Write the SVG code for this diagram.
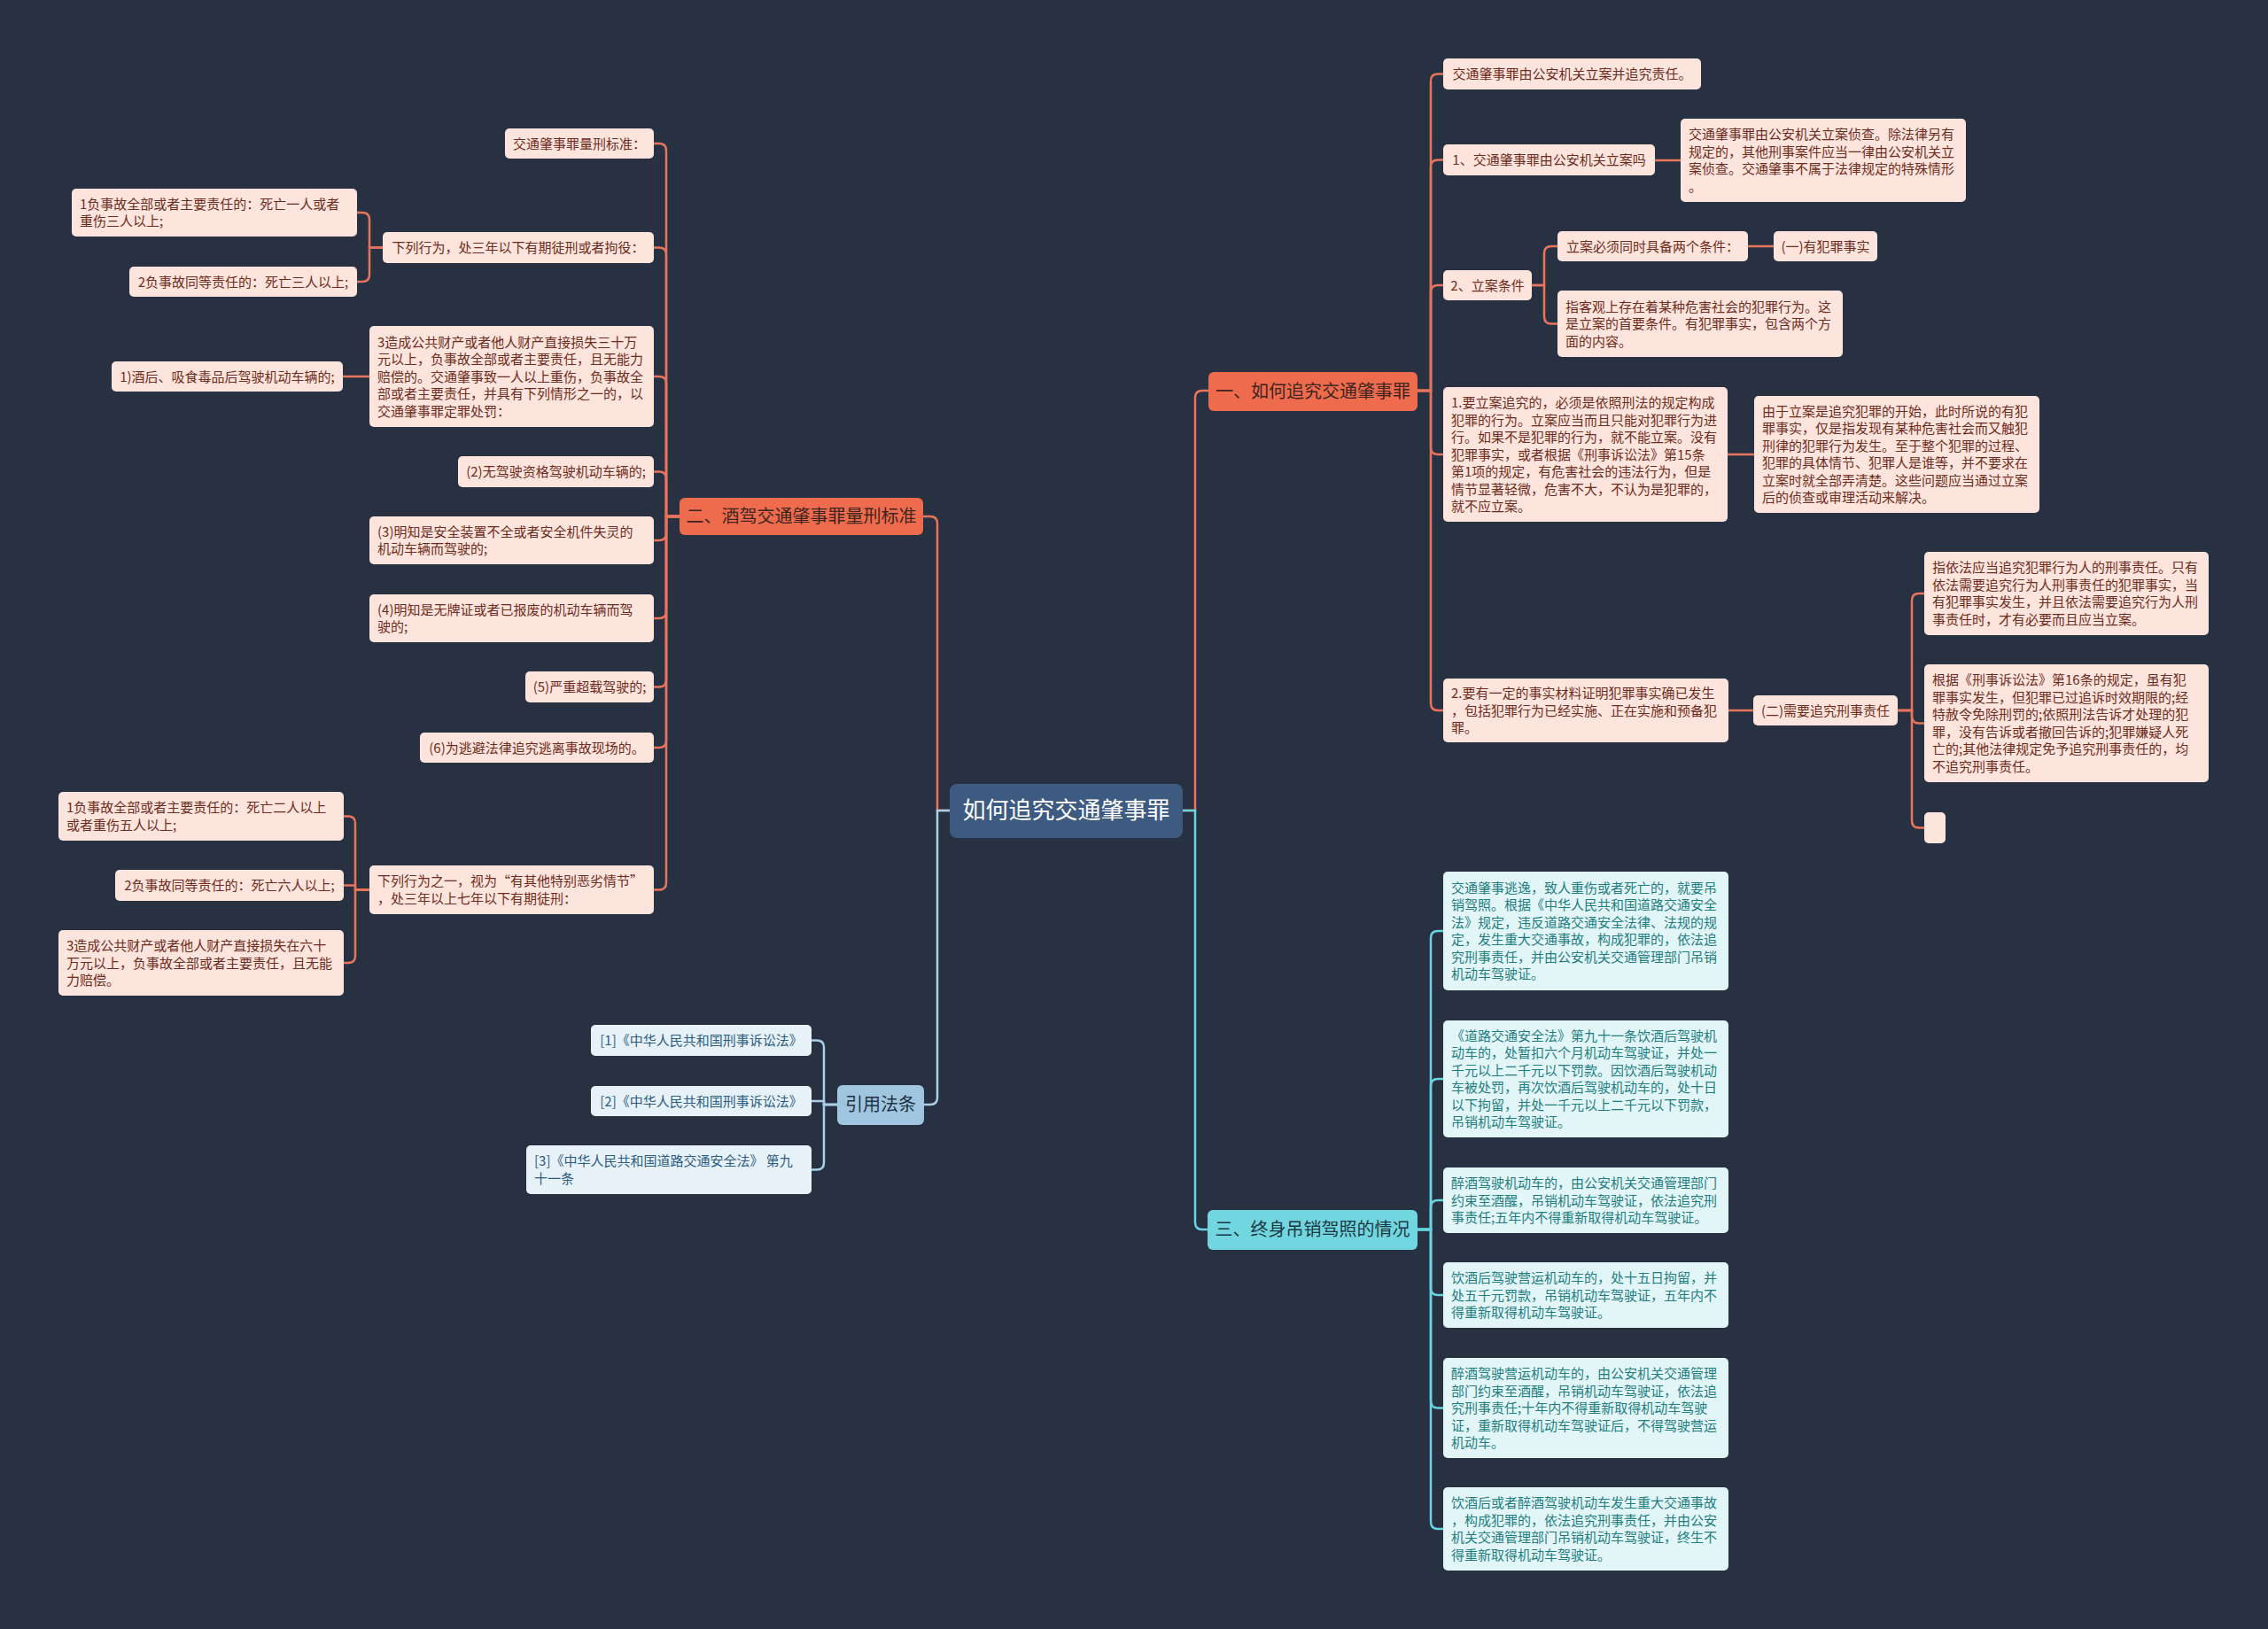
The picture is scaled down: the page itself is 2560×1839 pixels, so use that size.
<svg xmlns="http://www.w3.org/2000/svg" width="2560" height="1839" viewBox="0 0 2560 1839">
<style>
text{font-family:"Noto Sans CJK SC","Microsoft YaHei",sans-serif;font-size:15px}
.pk rect{fill:#fde4dc}
.pk text{fill:#6e2c20}
.cy rect{fill:#e2f6f8}
.cy text{fill:#1f7d80}
.bl rect{fill:#e7f1f8}
.bl text{fill:#2b5d82}
.m{text-anchor:middle}
.br text{font-size:20px;text-anchor:middle}
.co{fill:none;stroke:#e8755b;stroke-width:2.5}
.cc{fill:none;stroke:#67d4df;stroke-width:2.5}
.cb{fill:none;stroke:#a8cfe5;stroke-width:2.5}
</style>
<rect width="2560" height="1839" fill="#283142"/>
<g id="connectors">
<path class="co" d="M1335 915H1349V449Q1349 441 1357 441H1364" stroke-width="3"/>
<path class="cc" d="M1335 915H1349V1380Q1349 1388 1357 1388H1363" stroke-width="3"/>
<path class="co" d="M1072 915H1058V591Q1058 583 1050 583H1042" stroke-width="3"/>
<path class="cb" d="M1072 915H1058V1239Q1058 1247 1050 1247H1043" stroke-width="3"/>
<path class="co" d="M1600 441H1615V91.5Q1615 83.5 1623 83.5H1629"/>
<path class="co" d="M1600 441H1615V188.5Q1615 180.5 1623 180.5H1629"/>
<path class="co" d="M1600 441H1615V330Q1615 322 1623 322H1629"/>
<path class="co" d="M1600 441H1615V505Q1615 513 1623 513H1629"/>
<path class="co" d="M1600 441H1615V794Q1615 802 1623 802H1629"/>
<path class="co" d="M1868 181H1897"/>
<path class="co" d="M1729 322H1743V286Q1743 278 1751 278H1758"/>
<path class="co" d="M1729 322H1743V357.5Q1743 365.5 1751 365.5H1758"/>
<path class="co" d="M1973 278H2002"/>
<path class="co" d="M1950 513H1980"/>
<path class="co" d="M1951 802H1979"/>
<path class="co" d="M2142 802H2158V678Q2158 670 2166 670H2172"/>
<path class="co" d="M2142 802H2158V808.5Q2158 816.5 2166 816.5H2172"/>
<path class="co" d="M2142 802H2158V926.5Q2158 934.5 2166 934.5H2172"/>
<path class="cc" d="M1600 1388H1615V1059Q1615 1051 1623 1051H1629"/>
<path class="cc" d="M1600 1388H1615V1226Q1615 1218 1623 1218H1629"/>
<path class="cc" d="M1600 1388H1615V1363Q1615 1355 1623 1355H1629"/>
<path class="cc" d="M1600 1388H1615V1454Q1615 1462 1623 1462H1629"/>
<path class="cc" d="M1600 1388H1615V1581.5Q1615 1589.5 1623 1589.5H1629"/>
<path class="cc" d="M1600 1388H1615V1718Q1615 1726 1623 1726H1629"/>
<path class="co" d="M767 583H752V170Q752 162 744 162H738"/>
<path class="co" d="M767 583H752V287.5Q752 279.5 744 279.5H738"/>
<path class="co" d="M767 583H752V433Q752 425 744 425H738"/>
<path class="co" d="M767 583H752V540.5Q752 532.5 744 532.5H738"/>
<path class="co" d="M767 583H752V602Q752 610 744 610H738"/>
<path class="co" d="M767 583H752V690Q752 698 744 698H738"/>
<path class="co" d="M767 583H752V767.5Q752 775.5 744 775.5H738"/>
<path class="co" d="M767 583H752V836Q752 844 744 844H738"/>
<path class="co" d="M767 583H752V996.5Q752 1004.5 744 1004.5H738"/>
<path class="co" d="M432 279.5H417V248Q417 240 409 240H403"/>
<path class="co" d="M432 279.5H417V310Q417 318 409 318H403"/>
<path class="co" d="M417 425H387"/>
<path class="co" d="M417 1004.5H401V929.5Q401 921.5 393 921.5H388"/>
<path class="co" d="M417 1004.5H401V999.5H388"/>
<path class="co" d="M417 1004.5H401V1079Q401 1087 393 1087H388"/>
<path class="cb" d="M945 1247H930V1182.5Q930 1174.5 922 1174.5H916"/>
<path class="cb" d="M945 1247H930V1243H916"/>
<path class="cb" d="M945 1247H930V1312.5Q930 1320.5 922 1320.5H916"/>
</g>
<g id="root"><rect x="1072" y="885" width="263" height="61" rx="8" fill="#3d5a80"/><text x="1203.5" y="924" font-size="26" fill="#ffffff" text-anchor="middle" style="font-size:26px">如何追究交通肇事罪</text></g>
<g id="b1" class="br"><rect x="1364" y="420" width="236" height="44" rx="6" fill="#ee6c4d"/><text x="1482" y="448.5" fill="#3e2520">一、如何追究交通肇事罪</text></g>
<g id="b2" class="br"><rect x="767" y="562" width="275" height="42" rx="6" fill="#ee6c4d"/><text x="904.5" y="590" fill="#3e2520">二、酒驾交通肇事罪量刑标准</text></g>
<g id="b3" class="br"><rect x="1363" y="1366" width="237" height="45" rx="6" fill="#72d6e0"/><text x="1481.5" y="1395" fill="#1c3842">三、终身吊销驾照的情况</text></g>
<g id="b4" class="br"><rect x="945" y="1225" width="98" height="45" rx="6" fill="#9fc6de"/><text x="994" y="1254" fill="#1f3346">引用法条</text></g>

<g id="n1a" class="pk"><rect x="1629" y="66" width="291" height="35" rx="5"/><text class="m" x="1774.5" y="89">交通肇事罪由公安机关立案并追究责任。</text></g>
<g id="n1b" class="pk"><rect x="1629" y="163" width="239" height="35" rx="5"/><text class="m" x="1748.5" y="186">1、交通肇事罪由公安机关立案吗</text></g>
<g id="n1b1" class="pk"><rect x="1897" y="134" width="322" height="94" rx="5"/><text x="1906"><tspan x="1906" y="157.25">交通肇事罪由公安机关立案侦查。除法律另有</tspan><tspan x="1906" y="176.75">规定的，其他刑事案件应当一律由公安机关立</tspan><tspan x="1906" y="196.25">案侦查。交通肇事不属于法律规定的特殊情形</tspan><tspan x="1906" y="215.75">。</tspan></text></g>
<g id="n1c" class="pk"><rect x="1629" y="305" width="100" height="34" rx="5"/><text class="m" x="1679" y="327.5">2、立案条件</text></g>
<g id="n1c1" class="pk"><rect x="1758" y="261" width="215" height="34" rx="5"/><text class="m" x="1865.5" y="283.5">立案必须同时具备两个条件：</text></g>
<g id="n1c1a" class="pk"><rect x="2002" y="261" width="117" height="34" rx="5"/><text class="m" x="2060.5" y="283.5">(一)有犯罪事实</text></g>
<g id="n1c2" class="pk"><rect x="1758" y="328" width="322" height="75" rx="5"/><text><tspan x="1767" y="351.5">指客观上存在着某种危害社会的犯罪行为。这</tspan><tspan x="1767" y="371">是立案的首要条件。有犯罪事实，包含两个方</tspan><tspan x="1767" y="390.5">面的内容。</tspan></text></g>
<g id="n1d" class="pk"><rect x="1629" y="437" width="321" height="152" rx="5"/><text><tspan x="1638" y="460">1.要立案追究的，必须是依照刑法的规定构成</tspan><tspan x="1638" y="479.5">犯罪的行为。立案应当而且只能对犯罪行为进</tspan><tspan x="1638" y="499">行。如果不是犯罪的行为，就不能立案。没有</tspan><tspan x="1638" y="518.5">犯罪事实，或者根据《刑事诉讼法》第15条</tspan><tspan x="1638" y="538">第1项的规定，有危害社会的违法行为，但是</tspan><tspan x="1638" y="557.5">情节显著轻微，危害不大，不认为是犯罪的，</tspan><tspan x="1638" y="577">就不应立案。</tspan></text></g>
<g id="n1d1" class="pk"><rect x="1980" y="447" width="322" height="132" rx="5"/><text><tspan x="1989" y="469.75">由于立案是追究犯罪的开始，此时所说的有犯</tspan><tspan x="1989" y="489.25">罪事实，仅是指发现有某种危害社会而又触犯</tspan><tspan x="1989" y="508.75">刑律的犯罪行为发生。至于整个犯罪的过程、</tspan><tspan x="1989" y="528.25">犯罪的具体情节、犯罪人是谁等，并不要求在</tspan><tspan x="1989" y="547.75">立案时就全部弄清楚。这些问题应当通过立案</tspan><tspan x="1989" y="567.25">后的侦查或审理活动来解决。</tspan></text></g>
<g id="n1e" class="pk"><rect x="1629" y="766" width="322" height="72" rx="5"/><text><tspan x="1638" y="788">2.要有一定的事实材料证明犯罪事实确已发生</tspan><tspan x="1638" y="807.5">，包括犯罪行为已经实施、正在实施和预备犯</tspan><tspan x="1638" y="827">罪。</tspan></text></g>
<g id="n1e1" class="pk"><rect x="1979" y="785" width="163" height="34" rx="5"/><text class="m" x="2060.5" y="807.5">(二)需要追究刑事责任</text></g>
<g id="n1e1a" class="pk"><rect x="2172" y="623" width="321" height="94" rx="5"/><text><tspan x="2181" y="646.25">指依法应当追究犯罪行为人的刑事责任。只有</tspan><tspan x="2181" y="665.75">依法需要追究行为人刑事责任的犯罪事实，当</tspan><tspan x="2181" y="685.25">有犯罪事实发生，并且依法需要追究行为人刑</tspan><tspan x="2181" y="704.75">事责任时，才有必要而且应当立案。</tspan></text></g>
<g id="n1e1b" class="pk"><rect x="2172" y="750" width="321" height="133" rx="5"/><text><tspan x="2181" y="773.25">根据《刑事诉讼法》第16条的规定，虽有犯</tspan><tspan x="2181" y="792.75">罪事实发生，但犯罪已过追诉时效期限的;经</tspan><tspan x="2181" y="812.25">特赦令免除刑罚的;依照刑法告诉才处理的犯</tspan><tspan x="2181" y="831.75">罪，没有告诉或者撤回告诉的;犯罪嫌疑人死</tspan><tspan x="2181" y="851.25">亡的;其他法律规定免予追究刑事责任的，均</tspan><tspan x="2181" y="870.75">不追究刑事责任。</tspan></text></g>
<g id="n1e1c" class="pk"><rect x="2172" y="917" width="24" height="35" rx="5"/></g>

<g id="n3a" class="cy"><rect x="1629" y="984" width="322" height="134" rx="5"/><text><tspan x="1638" y="1007.75">交通肇事逃逸，致人重伤或者死亡的，就要吊</tspan><tspan x="1638" y="1027.25">销驾照。根据《中华人民共和国道路交通安全</tspan><tspan x="1638" y="1046.75">法》规定，违反道路交通安全法律、法规的规</tspan><tspan x="1638" y="1066.25">定，发生重大交通事故，构成犯罪的，依法追</tspan><tspan x="1638" y="1085.75">究刑事责任，并由公安机关交通管理部门吊销</tspan><tspan x="1638" y="1105.25">机动车驾驶证。</tspan></text></g>
<g id="n3b" class="cy"><rect x="1629" y="1152" width="322" height="132" rx="5"/><text><tspan x="1638" y="1174.75">《道路交通安全法》第九十一条饮酒后驾驶机</tspan><tspan x="1638" y="1194.25">动车的，处暂扣六个月机动车驾驶证，并处一</tspan><tspan x="1638" y="1213.75">千元以上二千元以下罚款。因饮酒后驾驶机动</tspan><tspan x="1638" y="1233.25">车被处罚，再次饮酒后驾驶机动车的，处十日</tspan><tspan x="1638" y="1252.75">以下拘留，并处一千元以上二千元以下罚款，</tspan><tspan x="1638" y="1272.25">吊销机动车驾驶证。</tspan></text></g>
<g id="n3c" class="cy"><rect x="1629" y="1318" width="322" height="74" rx="5"/><text><tspan x="1638" y="1341">醉酒驾驶机动车的，由公安机关交通管理部门</tspan><tspan x="1638" y="1360.5">约束至酒醒，吊销机动车驾驶证，依法追究刑</tspan><tspan x="1638" y="1380">事责任;五年内不得重新取得机动车驾驶证。</tspan></text></g>
<g id="n3d" class="cy"><rect x="1629" y="1425" width="322" height="74" rx="5"/><text><tspan x="1638" y="1448">饮酒后驾驶营运机动车的，处十五日拘留，并</tspan><tspan x="1638" y="1467.5">处五千元罚款，吊销机动车驾驶证，五年内不</tspan><tspan x="1638" y="1487">得重新取得机动车驾驶证。</tspan></text></g>
<g id="n3e" class="cy"><rect x="1629" y="1533" width="322" height="113" rx="5"/><text><tspan x="1638" y="1556">醉酒驾驶营运机动车的，由公安机关交通管理</tspan><tspan x="1638" y="1575.5">部门约束至酒醒，吊销机动车驾驶证，依法追</tspan><tspan x="1638" y="1595">究刑事责任;十年内不得重新取得机动车驾驶</tspan><tspan x="1638" y="1614.5">证，重新取得机动车驾驶证后，不得驾驶营运</tspan><tspan x="1638" y="1634">机动车。</tspan></text></g>
<g id="n3f" class="cy"><rect x="1629" y="1679" width="322" height="94" rx="5"/><text><tspan x="1638" y="1702.25">饮酒后或者醉酒驾驶机动车发生重大交通事故</tspan><tspan x="1638" y="1721.75">，构成犯罪的，依法追究刑事责任，并由公安</tspan><tspan x="1638" y="1741.25">机关交通管理部门吊销机动车驾驶证，终生不</tspan><tspan x="1638" y="1760.75">得重新取得机动车驾驶证。</tspan></text></g>

<g id="n2a" class="pk"><rect x="570" y="145" width="168" height="34" rx="5"/><text class="m" x="654" y="167.5">交通肇事罪量刑标准：</text></g>
<g id="n2b" class="pk"><rect x="432" y="262" width="306" height="35" rx="5"/><text class="m" x="585" y="285">下列行为，处三年以下有期徒刑或者拘役：</text></g>
<g id="n2b1" class="pk"><rect x="81" y="213" width="322" height="54" rx="5"/><text><tspan x="90" y="235.75">1负事故全部或者主要责任的：死亡一人或者</tspan><tspan x="90" y="255.25">重伤三人以上;</tspan></text></g>
<g id="n2b2" class="pk"><rect x="146" y="301" width="257" height="34" rx="5"/><text class="m" x="274.5" y="323.5">2负事故同等责任的：死亡三人以上;</text></g>
<g id="n2c" class="pk"><rect x="417" y="368" width="321" height="114" rx="5"/><text><tspan x="426" y="391.5">3造成公共财产或者他人财产直接损失三十万</tspan><tspan x="426" y="411">元以上，负事故全部或者主要责任，且无能力</tspan><tspan x="426" y="430.5">赔偿的。交通肇事致一人以上重伤，负事故全</tspan><tspan x="426" y="450">部或者主要责任，并具有下列情形之一的，以</tspan><tspan x="426" y="469.5">交通肇事罪定罪处罚：</tspan></text></g>
<g id="n2c1" class="pk"><rect x="126" y="408" width="261" height="34" rx="5"/><text class="m" x="256.5" y="430.5">1)酒后、吸食毒品后驾驶机动车辆的;</text></g>
<g id="n2d" class="pk"><rect x="517" y="515" width="221" height="35" rx="5"/><text class="m" x="627.5" y="538">(2)无驾驶资格驾驶机动车辆的;</text></g>
<g id="n2e" class="pk"><rect x="417" y="583" width="321" height="54" rx="5"/><text><tspan x="426" y="605.75">(3)明知是安全装置不全或者安全机件失灵的</tspan><tspan x="426" y="625.25">机动车辆而驾驶的;</tspan></text></g>
<g id="n2f" class="pk"><rect x="417" y="671" width="321" height="54" rx="5"/><text><tspan x="426" y="693.75">(4)明知是无牌证或者已报废的机动车辆而驾</tspan><tspan x="426" y="713.25">驶的;</tspan></text></g>
<g id="n2g" class="pk"><rect x="593" y="758" width="145" height="35" rx="5"/><text class="m" x="665.5" y="781">(5)严重超载驾驶的;</text></g>
<g id="n2h" class="pk"><rect x="474" y="827" width="264" height="34" rx="5"/><text class="m" x="606" y="849.5">(6)为逃避法律追究逃离事故现场的。</text></g>
<g id="n2i" class="pk"><rect x="417" y="977" width="321" height="55" rx="5"/><text><tspan x="426" y="1000.25">下列行为之一，视为“有其他特别恶劣情节”</tspan><tspan x="426" y="1019.75">，处三年以上七年以下有期徒刑：</tspan></text></g>
<g id="n2i1" class="pk"><rect x="66" y="894" width="322" height="55" rx="5"/><text><tspan x="75" y="917.25">1负事故全部或者主要责任的：死亡二人以上</tspan><tspan x="75" y="936.75">或者重伤五人以上;</tspan></text></g>
<g id="n2i2" class="pk"><rect x="130" y="982" width="258" height="35" rx="5"/><text class="m" x="259" y="1005">2负事故同等责任的：死亡六人以上;</text></g>
<g id="n2i3" class="pk"><rect x="66" y="1050" width="322" height="74" rx="5"/><text><tspan x="75" y="1073">3造成公共财产或者他人财产直接损失在六十</tspan><tspan x="75" y="1092.5">万元以上，负事故全部或者主要责任，且无能</tspan><tspan x="75" y="1112">力赔偿。</tspan></text></g>

<g id="r1" class="bl"><rect x="667" y="1157" width="249" height="35" rx="5"/><text class="m" x="791.5" y="1180">[1]《中华人民共和国刑事诉讼法》</text></g>
<g id="r2" class="bl"><rect x="667" y="1226" width="249" height="34" rx="5"/><text class="m" x="791.5" y="1248.5">[2]《中华人民共和国刑事诉讼法》</text></g>
<g id="r3" class="bl"><rect x="594" y="1293" width="322" height="55" rx="5"/><text><tspan x="603" y="1316.25">[3]《中华人民共和国道路交通安全法》 第九</tspan><tspan x="603" y="1335.75">十一条</tspan></text></g>
</svg>
